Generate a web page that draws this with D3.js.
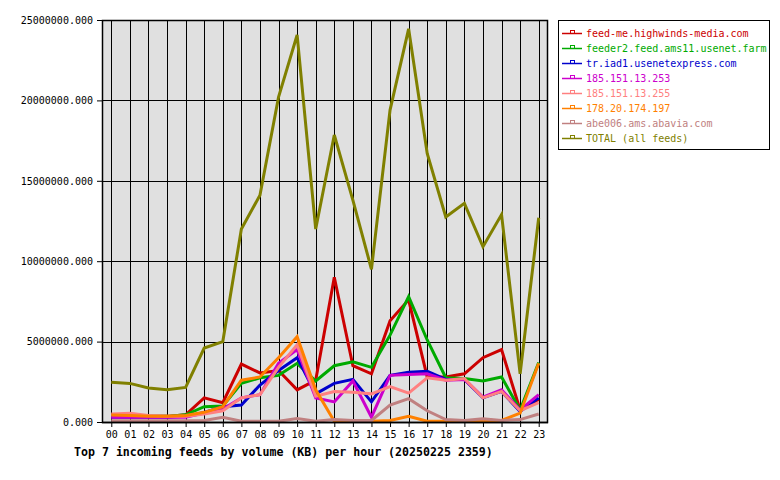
<!DOCTYPE html>
<html><head><meta charset="utf-8">
<script src="https://cdn.jsdelivr.net/npm/d3@7"></script>
<style>
body{margin:0;background:#fff;}
svg{display:block;}
text{font-family:"DejaVu Sans Mono",monospace;}
</style></head>
<body><svg id="c" width="780" height="480"></svg>
<script>
const hours = ["00","01","02","03","04","05","06","07","08","09","10","11","12","13","14","15","16","17","18","19","20","21","22","23"];
const feedNames = ["feed-me.highwinds-media.com","feeder2.feed.ams11.usenet.farm","tr.iad1.usenetexpress.com","185.151.13.253","185.151.13.255","178.20.174.197","abe006.ams.abavia.com","TOTAL (all feeds)"];
const feedColors = ["#cc0000","#00aa00","#0000cc","#cc00cc","#ff8080","#ff8000","#c08080","#808000"];
const highwinds = [0.35,0.35,0.35,0.35,0.45,1.5,1.2,3.6,3.05,3.2,2.0,2.6,9.0,3.5,3.0,6.3,7.6,2.8,2.8,3.0,4.0,4.5,0.75,1.4];
const ams11     = [0.35,0.35,0.35,0.35,0.45,0.95,1.0,2.4,2.75,2.9,3.65,2.55,3.5,3.75,3.4,5.4,7.8,5.1,2.75,2.7,2.55,2.8,0.75,3.7];
const iad1      = [0.3,0.3,0.3,0.3,0.35,0.6,0.95,1.05,2.3,3.2,4.0,1.75,2.4,2.65,1.25,2.9,3.1,3.15,2.65,2.65,1.5,1.9,0.65,1.5];
const ip253     = [0.3,0.3,0.3,0.3,0.3,0.55,0.8,1.5,1.7,3.65,4.5,1.5,1.25,2.55,0.3,2.9,2.95,3.0,2.6,2.65,1.55,2.0,0.75,1.7];
const ip255     = [0.5,0.55,0.4,0.35,0.35,0.5,0.7,1.5,1.7,3.4,4.8,1.6,1.9,1.85,1.75,2.2,1.8,2.75,2.6,2.7,1.5,1.9,0.7,1.2];
const ip197     = [0.43,0.4,0.35,0.35,0.4,0.6,0.95,2.6,2.8,4.0,5.3,2.0,0.05,0.05,0.05,0.1,0.35,0.05,0.05,0.05,0.05,0.1,0.55,3.65];
const abavia    = [0.08,0.08,0.08,0.08,0.08,0.1,0.3,0.05,0.05,0.05,0.22,0.05,0.15,0.1,0.1,1.05,1.45,0.7,0.15,0.1,0.2,0.1,0.15,0.5];
const total     = [2.47,2.4,2.12,2.0,2.15,4.6,5.0,12.0,14.1,20.2,24.07,12.0,17.85,13.8,9.5,19.4,24.45,16.7,12.75,13.6,10.9,12.9,3.0,12.7];
const yTicks = [0,5000000,10000000,15000000,20000000,25000000];
const titleText = "Top 7 incoming feeds by volume (KB) per hour (20250225 2359)";

const series = [highwinds,ams11,iad1,ip253,ip255,ip197,abavia,total].map((v,i)=>({name:feedNames[i],color:feedColors[i],values:v.map(d=>d*1e6)}));

const svg = d3.select("#c");
const L=102,R=548,T=20,B=422;
const x = d3.scaleLinear().domain([-0.5,23.5]).range([L,R]);
const y = d3.scaleLinear().domain([0,25000000]).range([B,T]);

svg.append("rect").attr("x",L).attr("y",T).attr("width",R-L).attr("height",B-T).attr("fill","#e0e0e0");

svg.append("g").selectAll("line").data(hours).join("line")
  .attr("x1",(d,i)=>Math.round(x(i))+0.5).attr("x2",(d,i)=>Math.round(x(i))+0.5)
  .attr("y1",T).attr("y2",B).attr("stroke","#000").attr("stroke-width",1);
svg.append("g").selectAll("line").data(yTicks).join("line")
  .attr("x1",L).attr("x2",R).attr("y1",d=>Math.round(y(d))+0.5).attr("y2",d=>Math.round(y(d))+0.5)
  .attr("stroke","#000").attr("stroke-width",1);

const line = d3.line().x((d,i)=>x(i)).y(d=>y(d));
svg.append("g").selectAll("path").data(series).join("path")
  .attr("d",d=>line(d.values)).attr("fill","none").attr("stroke",d=>d.color)
  .attr("stroke-width",3).attr("stroke-linejoin","miter");

svg.append("rect").attr("x",L+0.5).attr("y",T+0.5).attr("width",R-L-1).attr("height",B-T).attr("fill","none").attr("stroke","#000").attr("stroke-width",1.5);

const ya = svg.append("g").attr("transform",`translate(${L},0)`)
  .call(d3.axisLeft(y).tickValues(yTicks).tickSize(5).tickPadding(4).tickFormat(d=>d.toFixed(3)));
ya.select(".domain").remove();
ya.selectAll("line").attr("stroke","#000");
ya.selectAll("text").attr("font-family","DejaVu Sans Mono").attr("font-size","10px").attr("fill","#000");

const xa = svg.append("g").attr("transform",`translate(0,${B})`)
  .call(d3.axisBottom(x).tickValues(d3.range(hours.length)).tickSize(5).tickPadding(4).tickFormat(i=>hours[i]));
xa.select(".domain").attr("stroke","#000").attr("stroke-width",1.5).attr("d",`M${L},0.5H${R}`);
xa.selectAll("line").attr("stroke","#000");
xa.selectAll("text").attr("font-family","DejaVu Sans Mono").attr("font-size","10px").attr("fill","#000");

svg.append("text").attr("x",74).attr("y",456).attr("font-size","11.6px").attr("font-weight","bold")
  .attr("fill","#000").text(titleText);

const lg = svg.append("g");
lg.append("rect").attr("x",558.5).attr("y",20.5).attr("width",211).attr("height",129).attr("fill","#fff").attr("stroke","#000").attr("stroke-width",1);
const items = lg.selectAll("g.it").data(series).join("g").attr("class","it")
  .attr("transform",(d,i)=>`translate(0,${33+i*15})`);
items.append("line").attr("x1",562).attr("x2",582).attr("y1",0.5).attr("y2",0.5).attr("stroke",d=>d.color).attr("stroke-width",1.5);
items.append("rect").attr("x",570.5).attr("y",-2.5).attr("width",4).attr("height",3).attr("fill","none").attr("stroke",d=>d.color).attr("stroke-width",1);
items.append("text").attr("x",586).attr("y",4).attr("font-size","10px").attr("fill",d=>d.color).text(d=>d.name);
</script></body></html>
